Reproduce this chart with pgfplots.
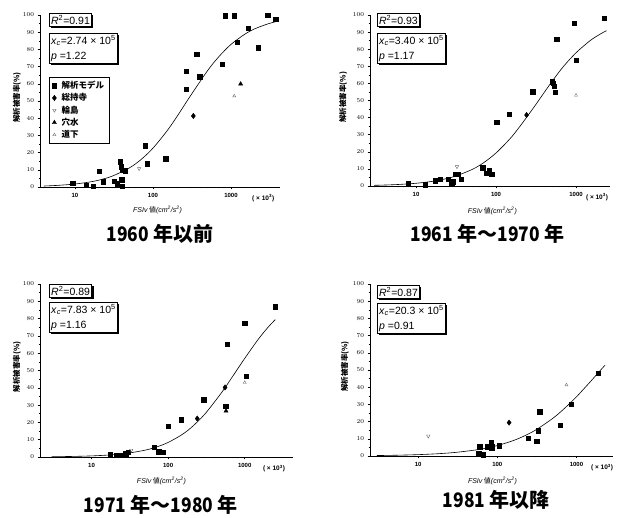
\documentclass[border=0pt]{standalone}
\usepackage{fontspec}
\setmainfont{Liberation Sans}
\newfontfamily\cjk{Noto Sans CJK JP}
\usepackage{graphicx}
\usepackage{pgfplots}
\pgfplotsset{compat=1.18}
\usetikzlibrary{shadows}
\newcommand{\tn}[1]{\scalebox{0.87}[1]{#1}}
\tikzset{
  mybox/.style={draw=black, fill=white, line width=0.6pt, inner sep=1.8pt,
    font=\fontsize{10.5}{15}\selectfont,
    drop shadow={shadow xshift=1.8pt, shadow yshift=-1.8pt, opacity=1, fill=black}},
  myttl/.style={font=\cjk\bfseries\fontsize{20}{22}\selectfont, anchor=center},
  myunit/.style={font=\fontsize{6.5}{7}\selectfont\bfseries, anchor=north},
}
\pgfplotsset{
  psq/.style={only marks, mark=square*, mark size=2.2pt, black},
  pdia/.style={only marks, mark=diamond*, mark size=2.7pt, black},
  pwj/.style={only marks, mark=triangle, mark size=2pt, black!60, mark options={rotate=180}},
  pan/.style={only marks, mark=triangle*, mark size=2.4pt, black},
  pmi/.style={only marks, mark=triangle, mark size=1.8pt, black!55},
  pfit/.style={smooth, black, line width=0.6pt, no marks, forget plot},
}
\newcommand{\xlab}{\textit{FSIv}\,{\cjk 値}\textit{(cm\textsuperscript{2}/s\textsuperscript{2})}}
\newcommand{\ylab}{\cjk\bfseries 解析被害率(\%)}
\begin{document}
\begin{tikzpicture}
\path[use as bounding box] (0pt,0pt) rectangle (619pt,518pt);
% ---------- Panel 1 ----------
\begin{axis}[at={(40pt,331pt)}, anchor=south west, width=240pt, height=172pt,
  xmode=log, scale only axis, clip=false,
  axis x line*=bottom, axis y line*=left,
  ymin=0, ymax=100, ytick={0,10,...,100}, minor y tick num=1,
  xtick={10,100,1000}, xticklabels={10,100,1000},
  minor xtick={4,5,6,7,8,9,20,30,40,50,60,70,80,90,200,300,400,500,600,700,800,900,2000,3000,4000},
  tick align=outside, major tick length=2.5pt, minor tick length=1.4pt,
  tick style={black, line width=0.5pt}, axis line style={line width=0.6pt},
  tick label style={font=\fontsize{6}{6}\selectfont\bfseries},
  xlabel={\xlab}, ylabel={\ylab},
  xlabel style={font=\fontsize{7}{8}\selectfont, anchor=center, at={(axis description cs:0.49,-0.134)}},
  ylabel style={font=\fontsize{7.5}{8}\selectfont, anchor=center, at={(axis description cs:-0.096,0.52)}},
  xmin=3.56, xmax=4250,
  legend style={at={(axis description cs:0.0375,0.64)}, anchor=north west,
    draw=black, line width=0.4pt, font=\cjk\bfseries\fontsize{8.5}{9}\selectfont,
    row sep=-0.5pt, column sep=3pt, inner xsep=3pt, inner ysep=2pt},
  legend cell align=left]
\addplot[psq] coordinates {(9.3,2.3)(14,1)(17,0.6)(20.5,9.3)(23,3)(31.6,3.3)(35,2)(37.7,14.6)(39,11.7)(39.6,4.3)(40,0.5)(41,9.7)(44,9.5)(79.6,24)(84,13.6)(146,16.5)(265,67.4)(265,56.8)(363,77.3)(398,64.1)(773,71.3)(838,99.6)(1100,99.6)(1200,84.1)(1667,92.3)(2240,81)(2950,100)(3740,97.5)};
\addlegendentry{解析モデル}
\addplot[pdia] coordinates {(329,41.3)};
\addlegendentry{総持寺}
\addplot[pwj] coordinates {(66.5,10.7)};
\addlegendentry{輪島}
\addplot[pan] coordinates {(1330,59.9)};
\addlegendentry{穴水}
\addplot[pmi] coordinates {(1100,52.9)};
\addlegendentry{道下}
\addplot[pfit] coordinates {(4,0.57)(6,0.94)(10,1.73)(15,2.81)(20,3.94)(30,6.31)(50,11.15)(70,15.9)(100,22.6)(150,32.4)(200,40.5)(300,52.8)(500,67.6)(700,75.8)(1000,82.9)(1500,88.8)(2000,91.9)(3000,94.9)(3700,96.0)};
\node[mybox, anchor=north west] at (axis description cs:0.0375,1.012) {\textit{R}\textsuperscript{2}=0.91};
\node[mybox, anchor=north west, align=left] at (axis description cs:0.0375,0.895) {\textit{x}\textsubscript{\textit{c}}=2.74 × 10\textsuperscript{5}\\\textit{p} =1.22};
\node[myunit] at (axis description cs:0.93,-0.025) {( × 10\textsuperscript{3})};
\node[myttl] at (axis description cs:0.5,-0.273) {\tn{1960} 年以前};
\end{axis}
% ---------- Panel 2 ----------
\begin{axis}[at={(370pt,332pt)}, anchor=south west, width=240pt, height=171pt,
  xmode=log, scale only axis, clip=false,
  axis x line*=bottom, axis y line*=left,
  ymin=0, ymax=100, ytick={0,10,...,100}, minor y tick num=1,
  xtick={10,100,1000}, xticklabels={10,100,1000},
  minor xtick={3,4,5,6,7,8,9,20,30,40,50,60,70,80,90,200,300,400,500,600,700,800,900,2000},
  tick align=outside, major tick length=2.5pt, minor tick length=1.4pt,
  tick style={black, line width=0.5pt}, axis line style={line width=0.6pt},
  tick label style={font=\fontsize{6}{6}\selectfont\bfseries},
  xlabel={\xlab}, ylabel={\ylab},
  xlabel style={font=\fontsize{7}{8}\selectfont, anchor=center, at={(axis description cs:0.51,-0.146)}},
  ylabel style={font=\fontsize{7.5}{8}\selectfont, anchor=center, at={(axis description cs:-0.112,0.52)}},
  xmin=2.66, xmax=2660]
\addplot[psq] coordinates {(2240,98)(944,95.1)(1000,73.7)(573,85.8)(287,55.2)(147,41.9)(102,37.2)(500,61)(520,60)(535,58.5)(545,55)(68,10.7)(76,7.4)(82.6,9.4)(88,7)(28.8,2.5)(33.5,7)(31.5,7)(37,3.9)(25.4,4)(20,4)(17.3,3)(28,1.2)(8,1.5)(13,0.8)};
\addplot[pdia] coordinates {(241,41.5)};
\addplot[pwj] coordinates {(32.5,11.3)};
\addplot[pmi] coordinates {(1000,53)};
\addplot[pfit] coordinates {(3,0.39)(4,0.55)(6,0.88)(10,1.59)(15,2.53)(20,3.51)(30,5.52)(50,9.60)(70,13.6)(100,19.3)(150,27.7)(200,35.0)(300,46.3)(500,61.1)(700,70.0)(1000,77.9)(1500,85.0)(2000,88.8)(2400,90.8)};
\node[mybox, anchor=north west] at (axis description cs:0.029,1.012) {\textit{R}\textsuperscript{2}=0.93};
\node[mybox, anchor=north west, align=left] at (axis description cs:0.029,0.895) {\textit{x}\textsubscript{\textit{c}}=3.40 × 10\textsuperscript{5}\\\textit{p} =1.17};
\node[myunit] at (axis description cs:0.946,-0.025) {( × 10\textsuperscript{3})};
\node[myttl] at (axis description cs:0.49,-0.28) {\tn{1961} 年～\tn{1970} 年};
\end{axis}
% ---------- Panel 3 ----------
\begin{axis}[at={(40pt,61pt)}, anchor=south west, width=253pt, height=173pt,
  xmode=log, scale only axis, clip=false,
  axis x line*=bottom, axis y line*=left,
  ymin=0, ymax=100, ytick={0,10,...,100}, minor y tick num=1,
  xtick={10,100,1000}, xticklabels={10,100,1000},
  minor xtick={3,4,5,6,7,8,9,20,30,40,50,60,70,80,90,200,300,400,500,600,700,800,900,2000,3000,4000},
  tick align=outside, major tick length=2.5pt, minor tick length=1.4pt,
  tick style={black, line width=0.5pt}, axis line style={line width=0.6pt},
  tick label style={font=\fontsize{6}{6}\selectfont\bfseries},
  xlabel={\xlab}, ylabel={\ylab},
  xlabel style={font=\fontsize{7}{8}\selectfont, anchor=center, at={(axis description cs:0.48,-0.137)}},
  ylabel style={font=\fontsize{7.5}{8}\selectfont, anchor=center, at={(axis description cs:-0.091,0.52)}},
  xmin=2.12, xmax=4270]
\addplot[psq] coordinates {(2490,86.9)(1000,77.2)(1050,46.7)(594,65.3)(565,29.5)(292,33.2)(149,21.6)(100,17.8)(66,5.8)(75,3)(80,2.9)(86,2.9)(30,2.9)(28,2)(17.4,1.5)(21,1)(24,1.2)};
\addplot[pdia] coordinates {(553,40.2)(240,22.2)};
\addplot[pwj] coordinates {(33,3.9)};
\addplot[pan] coordinates {(570,26.6)};
\addplot[pmi] coordinates {(1000,43)};
\addplot[pfit] coordinates {(3,0.16)(4,0.22)(6,0.35)(10,0.63)(15,1.01)(20,1.40)(30,2.22)(50,3.95)(70,5.73)(100,8.42)(150,12.8)(200,17.0)(300,24.7)(500,37.3)(700,46.8)(1000,57.0)(1500,68.0)(2000,74.8)(2500,79.4)};
\node[mybox, anchor=north west] at (axis description cs:0.036,1.0) {\textit{R}\textsuperscript{2}=0.89};
\node[mybox, anchor=north west, align=left] at (axis description cs:0.036,0.896) {\textit{x}\textsubscript{\textit{c}}=7.83 × 10\textsuperscript{5}\\\textit{p} =1.16};
\node[myunit] at (axis description cs:0.925,-0.025) {( × 10\textsuperscript{3})};
\node[myttl] at (axis description cs:0.478,-0.277) {\tn{1971} 年～\tn{1980} 年};
\end{axis}
% ---------- Panel 4 ----------
\begin{axis}[at={(370pt,62pt)}, anchor=south west, width=243pt, height=172pt,
  xmode=log, scale only axis, clip=false,
  axis x line*=bottom, axis y line*=left,
  ymin=0, ymax=100, ytick={0,10,...,100}, minor y tick num=1,
  xtick={10,100,1000}, xticklabels={10,100,1000},
  minor xtick={3,4,5,6,7,8,9,20,30,40,50,60,70,80,90,200,300,400,500,600,700,800,900,2000},
  tick align=outside, major tick length=2.5pt, minor tick length=1.4pt,
  tick style={black, line width=0.5pt}, axis line style={line width=0.6pt},
  tick label style={font=\fontsize{6}{6}\selectfont\bfseries},
  xlabel={\xlab}, ylabel={\ylab},
  xlabel style={font=\fontsize{7}{8}\selectfont, anchor=center, at={(axis description cs:0.504,-0.145)}},
  ylabel style={font=\fontsize{7.5}{8}\selectfont, anchor=center, at={(axis description cs:-0.103,0.52)}},
  xmin=2.46, xmax=2900]
\addplot[psq] coordinates {(1880,48.1)(865,30.2)(628,18)(344,25.8)(328,14.7)(313,8.7)(246,10.3)(105,6)(85,4.8)(85,5.4)(84,7.8)(74.5,5.4)(60,5.4)(58,1.5)(62,1.2)(66,0.8)};
\addplot[pdia] coordinates {(141,19.4)};
\addplot[pwj] coordinates {(13.4,11.6)};
\addplot[pmi] coordinates {(748,41.3)};
\addplot[pfit] coordinates {(3,0.27)(4,0.34)(6,0.50)(10,0.79)(15,1.14)(20,1.47)(30,2.11)(50,3.32)(70,4.46)(100,6.07)(150,8.55)(200,10.8)(300,14.9)(500,21.8)(700,27.5)(1000,34.4)(1500,43.2)(2000,49.7)(2300,52.8)};
\node[mybox, anchor=north west] at (axis description cs:0.029,0.994) {\textit{R}\textsuperscript{2}=0.87};
\node[mybox, anchor=north west, align=left] at (axis description cs:0.029,0.89) {\textit{x}\textsubscript{\textit{c}}=20.3 × 10\textsuperscript{5}\\\textit{p} =0.91};
\node[myunit] at (axis description cs:0.955,-0.025) {( × 10\textsuperscript{3})};
\node[myttl] at (axis description cs:0.52,-0.256) {\tn{1981} 年以降};
\end{axis}
\end{tikzpicture}
\end{document}
